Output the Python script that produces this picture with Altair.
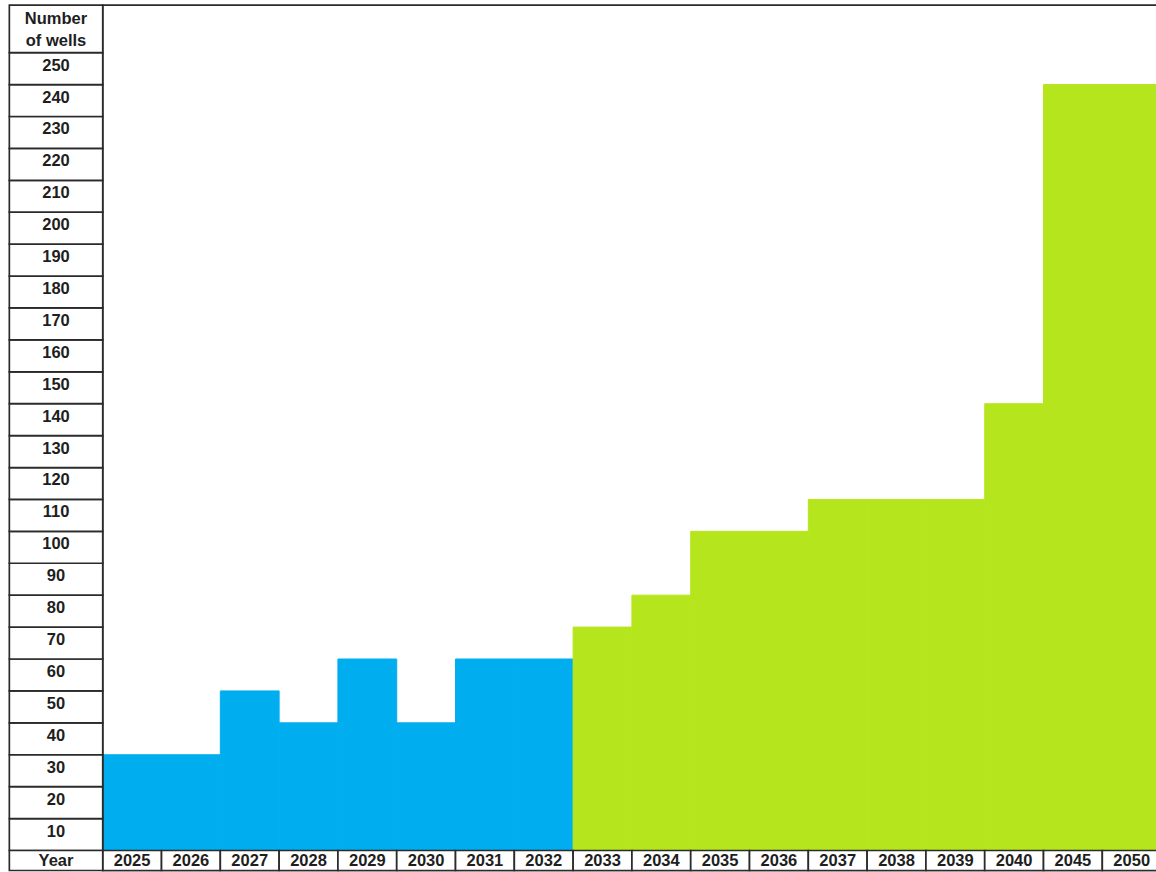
import altair as alt
import pandas as pd

# ---- data ----
years = ["2025", "2026", "2027", "2028", "2029", "2030", "2031", "2032", "2033",
         "2034", "2035", "2036", "2037", "2038", "2039", "2040", "2045", "2050"]
wells = [30, 30, 50, 40, 60, 40, 60, 60, 70,
         80, 100, 100, 110, 110, 110, 140, 240, 240]
row_labels = [10, 20, 30, 40, 50, 60, 70, 80, 90, 100, 110, 120, 130,
              140, 150, 160, 170, 180, 190, 200, 210, 220, 230, 240, 250]
y_title = "Number\nof wells"
x_title = "Year"
last_current_year = 2032
phase_names = ["to 2032", "from 2033"]
phase_colors = ["#00AEEF", "#B5E61D"]

# ---- layout parameters (scale units) ----
W, H = 1156, 872
X_DOMAIN = [-1.747, 17.913]
Y_DOMAIN = [-6.74, 266.5]
LEFT_COL = -1.588
TOP = 264.9
BOTTOM = -6.27
ROW_STEP = 10
FONT = "Liberation Sans"
FS = 16.5
TXT = "#1e1e1e"
LINE = "#2b2b2b"
LW = 1.7

xs = alt.Scale(domain=X_DOMAIN, nice=False, zero=False)
ys = alt.Scale(domain=Y_DOMAIN, nice=False, zero=False)

bars = pd.DataFrame({
    "year": years,
    "wells": wells,
    "i": list(range(len(years))),
})
bars["i2"] = bars["i"] + 1
bars["xm"] = bars["i"] + 0.5
bars["zero"] = 0
bars["phase"] = [phase_names[0] if int(y) <= last_current_year else phase_names[1] for y in years]
bars["ybot"] = BOTTOM
bars["ymid"] = BOTTOM / 2

rows = pd.DataFrame({"label": [str(v) for v in row_labels], "top": row_labels})
rows["bot"] = rows["top"] - ROW_STEP
rows["mid"] = rows["top"] - ROW_STEP / 2
rows["x1"] = LEFT_COL
rows["x2"] = 0
rows["xm"] = LEFT_COL / 2

head = pd.DataFrame({
    "label": [y_title, x_title],
    "y1": [row_labels[-1], BOTTOM],
    "y2": [TOP, 0],
    "x1": [LEFT_COL, LEFT_COL],
    "x2": [0, 0],
})
head["ym"] = (head["y1"] + head["y2"]) / 2
head["xm"] = LEFT_COL / 2
head_top = head.iloc[[0]]
head_bottom = head.iloc[[1]]

frame = pd.DataFrame({"x1": [0], "x2": [len(years) + 1], "y1": [BOTTOM], "y2": [TOP]})

phase_scale = alt.Scale(domain=phase_names, range=phase_colors)
bar_layer = alt.Chart(bars).mark_rect(strokeWidth=1).encode(
    x=alt.X("i:Q", scale=xs, axis=None),
    x2="i2:Q",
    y=alt.Y("zero:Q", scale=ys, axis=None),
    y2="wells:Q",
    fill=alt.Fill("phase:N", scale=phase_scale, legend=None),
    stroke=alt.Stroke("phase:N", scale=phase_scale, legend=None),
)

frame_layer = alt.Chart(frame).mark_rect(fillOpacity=0, stroke=LINE, strokeWidth=LW).encode(
    x=alt.X("x1:Q", scale=xs, axis=None), x2="x2:Q",
    y=alt.Y("y1:Q", scale=ys, axis=None), y2="y2:Q",
)

year_cells = alt.Chart(bars).mark_rect(fill="white", stroke=LINE, strokeWidth=LW).encode(
    x=alt.X("i:Q", scale=xs, axis=None), x2="i2:Q",
    y=alt.Y("ybot:Q", scale=ys, axis=None), y2="zero:Q",
)
year_text = alt.Chart(bars).mark_text(font=FONT, fontSize=FS, fontWeight="bold", color=TXT,
                                      baseline="middle", align="center", dy=1).encode(
    x=alt.X("xm:Q", scale=xs, axis=None),
    y=alt.Y("ymid:Q", scale=ys, axis=None),
    text="year:N",
)

row_cells = alt.Chart(rows).mark_rect(fill="white", stroke=LINE, strokeWidth=LW).encode(
    x=alt.X("x1:Q", scale=xs, axis=None), x2="x2:Q",
    y=alt.Y("bot:Q", scale=ys, axis=None), y2="top:Q",
)
row_text = alt.Chart(rows).mark_text(font=FONT, fontSize=FS, fontWeight="bold", color=TXT,
                                     baseline="middle", align="center", dy=-3).encode(
    x=alt.X("xm:Q", scale=xs, axis=None),
    y=alt.Y("mid:Q", scale=ys, axis=None),
    text="label:N",
)

head_cells = alt.Chart(head).mark_rect(fill="white", stroke=LINE, strokeWidth=LW).encode(
    x=alt.X("x1:Q", scale=xs, axis=None), x2="x2:Q",
    y=alt.Y("y1:Q", scale=ys, axis=None), y2="y2:Q",
)
head_text_top = alt.Chart(head_top).mark_text(font=FONT, fontSize=FS, fontWeight="bold", color=TXT,
                                              baseline="middle", align="center", lineBreak="\n",
                                              lineHeight=22, dy=-10).encode(
    x=alt.X("xm:Q", scale=xs, axis=None),
    y=alt.Y("ym:Q", scale=ys, axis=None),
    text="label:N",
)
head_text_bottom = alt.Chart(head_bottom).mark_text(font=FONT, fontSize=FS, fontWeight="bold", color=TXT,
                                                    baseline="middle", align="center", dy=1).encode(
    x=alt.X("xm:Q", scale=xs, axis=None),
    y=alt.Y("ym:Q", scale=ys, axis=None),
    text="label:N",
)

chart = alt.layer(
    bar_layer, frame_layer, year_cells, row_cells, head_cells,
    year_text, row_text, head_text_top, head_text_bottom,
).properties(
    width=W, height=H, padding=0,
    autosize=alt.AutoSizeParams(type="none"),
    background="white",
).configure_view(stroke=None)

chart.save("out.html", embed_options={"renderer": "svg", "actions": False})
